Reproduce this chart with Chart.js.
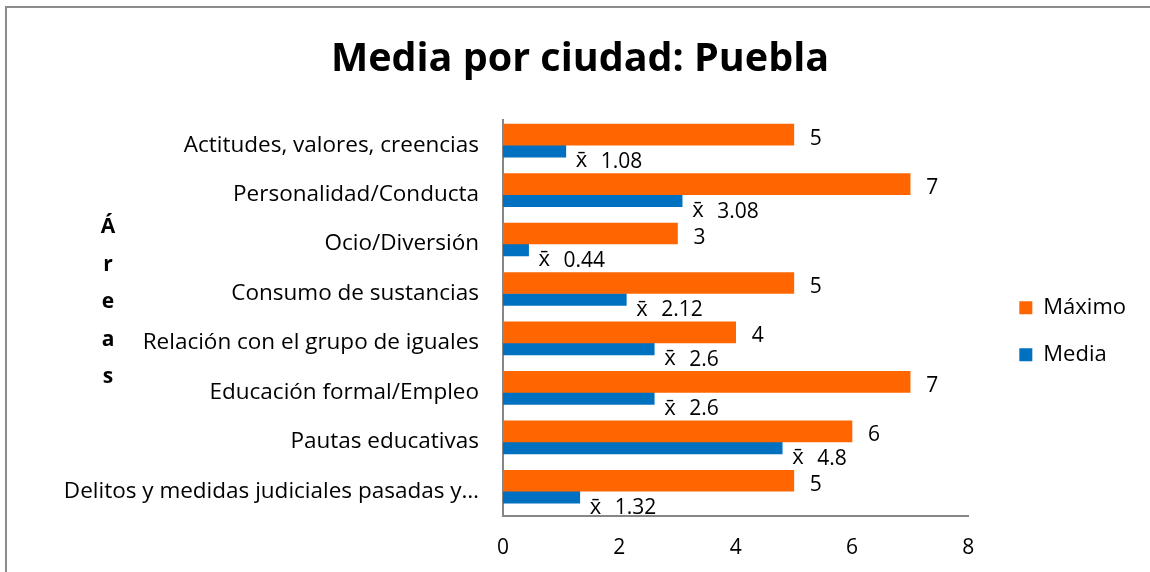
<!DOCTYPE html>
<html>
<head>
<meta charset="utf-8">
<script src="https://cdn.jsdelivr.net/npm/chart.js@4/dist/chart.umd.min.js"></script>
<style>
html, body { margin: 0; padding: 0; background: #fff; overflow: hidden; }
#wrap { position: relative; width: 1150px; height: 572px; overflow: hidden; }
#marco { position: absolute; left: 5px; top: 6px; right: -10px; bottom: -10px;
         border-left: 2px solid #8c8c8c; border-top: 2px solid #8c8c8c; pointer-events: none; }
</style>
</head>
<body>
<div id="wrap"><canvas id="grafico"></canvas><div id="marco"></div></div>
<script>
// Datos del gráfico (de arriba hacia abajo)
const areas = [
    'Actitudes, valores, creencias',
    'Personalidad/Conducta',
    'Ocio/Diversión',
    'Consumo de sustancias',
    'Relación con el grupo de iguales',
    'Educación formal/Empleo',
    'Pautas educativas',
    'Delitos y medidas judiciales pasadas y…'
];
const maximo = [5, 7, 3, 5, 4, 7, 6, 5];
const media = [1.08, 3.08, 0.44, 2.12, 2.6, 2.6, 4.8, 1.32];
const ticksX = [0, 2, 4, 6, 8];
const tituloEje = ['Á', 'r', 'e', 'a', 's'];

const fuente = '"Open Sans", "Noto Sans", sans-serif';

// etiquetas de valores y título vertical "Áreas"
const etiquetas = {
    id: 'etiquetas',
    afterDatasetsDraw(chart) {
        const ctx = chart.ctx;
        ctx.save();
        ctx.fillStyle = '#000';
        ctx.textAlign = 'left';
        ctx.textBaseline = 'middle';
        ctx.font = '21px ' + fuente;
        chart.getDatasetMeta(0).data.forEach((bar, i) => {
            ctx.fillText(String(maximo[i]), bar.x + 16, bar.y + 4);
        });
        chart.getDatasetMeta(1).data.forEach((bar, i) => {
            ctx.font = '22px ' + fuente;
            ctx.fillText('x\u0304', bar.x + 10, bar.y + 10);
            ctx.font = '21px ' + fuente;
            ctx.fillText(String(media[i]), bar.x + 35, bar.y + 11);
        });

        ctx.font = 'bold 21px ' + fuente;
        ctx.textAlign = 'center';
        ctx.textBaseline = 'alphabetic';
        tituloEje.forEach((letra, i) => {
            ctx.fillText(letra, 108, 233 + i * 37.5);
        });
        ctx.restore();
    }
};

new Chart(document.getElementById('grafico'), {
    type: 'bar',
    data: {
        labels: areas,
        datasets: [
            {
                label: 'Máximo',
                data: maximo,
                backgroundColor: '#FF6600',
                barThickness: 21
            },
            {
                label: 'Media',
                data: media,
                backgroundColor: '#0070C0',
                barThickness: 12
            }
        ]
    },
    options: {
        indexAxis: 'y',
        responsive: true,
        maintainAspectRatio: false,
        animation: false,
        layout: { padding: { left: 24, right: 14, top: 0, bottom: 0 } },
        plugins: {
            title: {
                display: true,
                text: 'Media por ciudad: Puebla',
                color: '#000',
                font: { family: fuente, size: 39.5, weight: 'bold', lineHeight: 1.2 },
                padding: { top: 36, bottom: 37 }
            },
            legend: {
                position: 'right',
                fullSize: false,
                title: { display: true, text: '', font: { size: 10, lineHeight: 1.2 }, padding: 7 },
                labels: {
                    color: '#000',
                    font: { family: fuente, size: 22 },
                    boxWidth: 13,
                    boxHeight: 13,
                    padding: 25
                }
            },
            tooltip: { enabled: false }
        },
        scales: {
            x: {
                min: 0,
                max: 8,
                afterBuildTicks: (scale) => { scale.ticks = ticksX.map(v => ({ value: v })); },
                afterFit: (scale) => { scale.height = 56; },
                grid: { display: false, drawTicks: false },
                border: { display: true, color: '#868686', width: 2 },
                ticks: { color: '#000', font: { family: fuente, size: 21 }, padding: 19 }
            },
            y: {
                afterFit: (scale) => { scale.width = 479; },
                grid: { display: false, drawTicks: false },
                border: { display: true, color: '#868686', width: 2 },
                ticks: { color: '#000', font: { family: fuente, size: 22.5 }, padding: 24 }
            },
            // espacio vacío entre el área del gráfico y la leyenda
            hueco: {
                type: 'linear',
                position: 'right',
                afterFit: (scale) => { scale.width = 26; },
                grid: { display: false, drawTicks: false },
                border: { display: false },
                ticks: { display: false }
            }
        }
    },
    plugins: [etiquetas]
});
</script>
</body>
</html>
